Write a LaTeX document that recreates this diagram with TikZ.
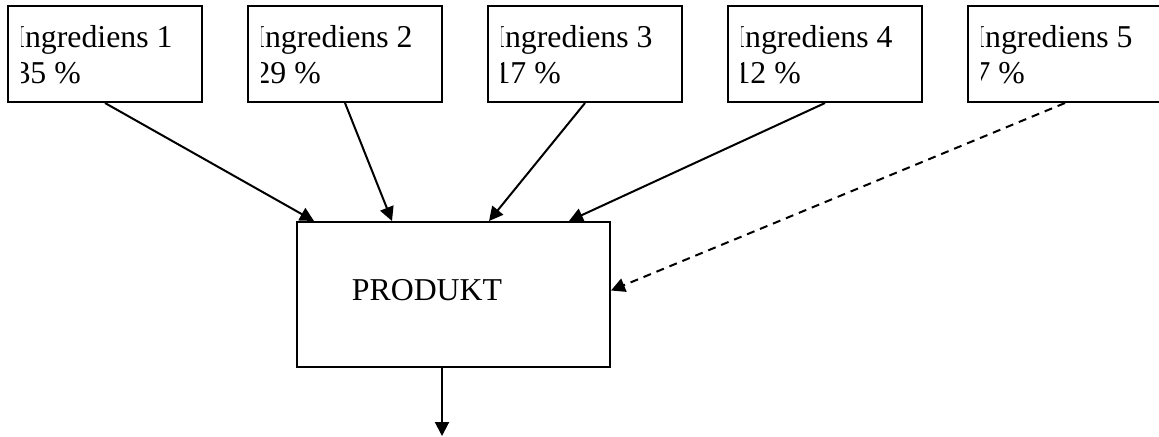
\documentclass[tikz,border=0pt]{standalone}
\usepackage{fontspec}
\setmainfont{Liberation Serif}
\usetikzlibrary{arrows.meta, positioning}

\begin{document}
\begin{tikzpicture}[
    x=0.5pt, y=-0.5pt,
    node distance=22pt,
    font=\fontsize{15.9}{18}\selectfont,
    ingbox/.style 2 args={rectangle, draw, line width=1pt, minimum width=97pt, minimum height=48pt, inner sep=0pt,
        path picture={
            \begin{scope}
            \clip ([xshift=6.5pt]path picture bounding box.south west) rectangle (path picture bounding box.north east);
            \node[draw=none, minimum width=0pt, minimum height=0pt, inner sep=0pt, anchor=base west]
                at ([xshift=2.75pt, yshift=-20.5pt]path picture bounding box.north west) {#1};
            \node[draw=none, minimum width=0pt, minimum height=0pt, inner sep=0pt, anchor=base west]
                at ([xshift=2.75pt, yshift=-38.5pt]path picture bounding box.north west) {#2};
            \end{scope}}},
    prodbox/.style={rectangle, draw, line width=1pt, minimum width=156.5pt, minimum height=72.5pt, inner sep=0pt,
        text height=10.5pt, text depth=5pt},
    arrow/.style={-{Triangle[length=7pt, width=7pt]}, line width=1pt},
]
\clip (0,0) rectangle (1159,436);

% Ingredients
\node[ingbox={Ingrediens 1}{35 \%}] (ing1) at (105,54) {};
\node[ingbox={Ingrediens 2}{29 \%}, right=of ing1] (ing2) {};
\node[ingbox={Ingrediens 3}{17 \%}, right=of ing2] (ing3) {};
\node[ingbox={Ingrediens 4}{12 \%}, right=of ing3] (ing4) {};
\node[ingbox={Ingrediens 5}{7 \%}, right=of ing4] (ing5) {};

% Product
\node[prodbox] (prod) at (453.5,294.5) {PRODUKT\hspace*{26.5pt}};
\coordinate (out) at (442,436);

% Arrows
\draw[arrow] (ing1.south) -- ([xshift=9pt]prod.north west);
\draw[arrow] (ing2.south) -- ([xshift=48pt]prod.north west);
\draw[arrow] (ing3.south) -- ([xshift=96.5pt]prod.north west);
\draw[arrow] (ing4.south) -- ([xshift=136.5pt]prod.north west);
\draw[arrow, dash pattern=on 4pt off 3pt] (ing5.south) -- ([yshift=2pt]prod.east);
\draw[arrow] (prod.south -| out) -- (out);

\end{tikzpicture}
\end{document}
